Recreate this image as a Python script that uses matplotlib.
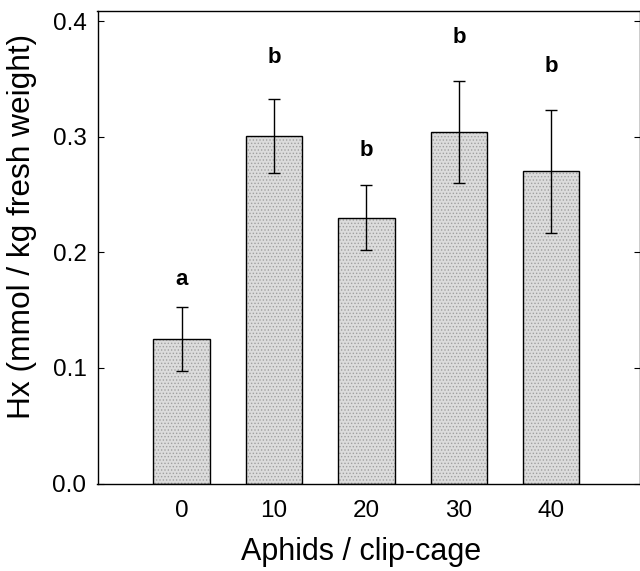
import matplotlib
matplotlib.use('Agg')
import matplotlib.pyplot as plt
import numpy as np

# values
aphids = ['0', '10', '20', '30', '40']
hx_mean = [0.125, 0.301, 0.230, 0.304, 0.270]
hx_err = [0.028, 0.032, 0.028, 0.044, 0.053]
letters = ['a', 'b', 'b', 'b', 'b']
letter_y = [0.172, 0.3635, 0.283, 0.381, 0.356]

plt.rcParams['font.family'] = ['Liberation Sans', 'DejaVu Sans']
plt.rcParams['hatch.linewidth'] = 0.6

fig = plt.figure(figsize=(6.4, 5.71), dpi=100)
ax = fig.add_axes([97.5 / 640, 1 - 483.5 / 571, 542.5 / 640, 472.5 / 571])

x = np.arange(len(aphids))

# stippled fill, then black outline on top
ax.bar(x, hx_mean, width=0.61, color='#dcdcdc', edgecolor='#a0a0a0',
       hatch='.....', linewidth=0, zorder=2)
ax.bar(x, hx_mean, width=0.61, fill=False, edgecolor='black',
       linewidth=1.0, zorder=3)
ax.errorbar(x, hx_mean, yerr=hx_err, fmt='none', ecolor='black',
            elinewidth=1.0, capsize=4.3, capthick=1.0, zorder=4)

for xi, lab, ly in zip(x, letters, letter_y):
    ax.text(xi, ly, lab, ha='center', va='baseline', fontsize=16,
            fontweight='bold')

ax.set_xlim(-0.91, 4.96)
ax.set_ylim(0, 0.4087)
ax.set_xticks(x)
ax.set_xticklabels(aphids)
ax.set_yticks([0.0, 0.1, 0.2, 0.3, 0.4])
ax.set_yticklabels(['0.0', '0.1', '0.2', '0.3', '0.4'])
ax.tick_params(axis='x', length=0, pad=12, labelsize=17.5)
ax.tick_params(axis='y', direction='in', length=4, width=0.8, pad=8,
               labelsize=17.5, right=True)

for sp in ax.spines.values():
    sp.set_linewidth(1.0)

ax.set_xlabel('Aphids / clip-cage', fontsize=22, va='center')
ax.xaxis.set_label_coords(0.486, (483.5 - 552) / 472.5)
ax.set_ylabel('Hx (mmol / kg fresh weight)', fontsize=22.8, va='center')
ax.yaxis.set_label_coords((22.5 - 97.5) / 542.5, 0.544)

fig.savefig('out.png', dpi=100)
